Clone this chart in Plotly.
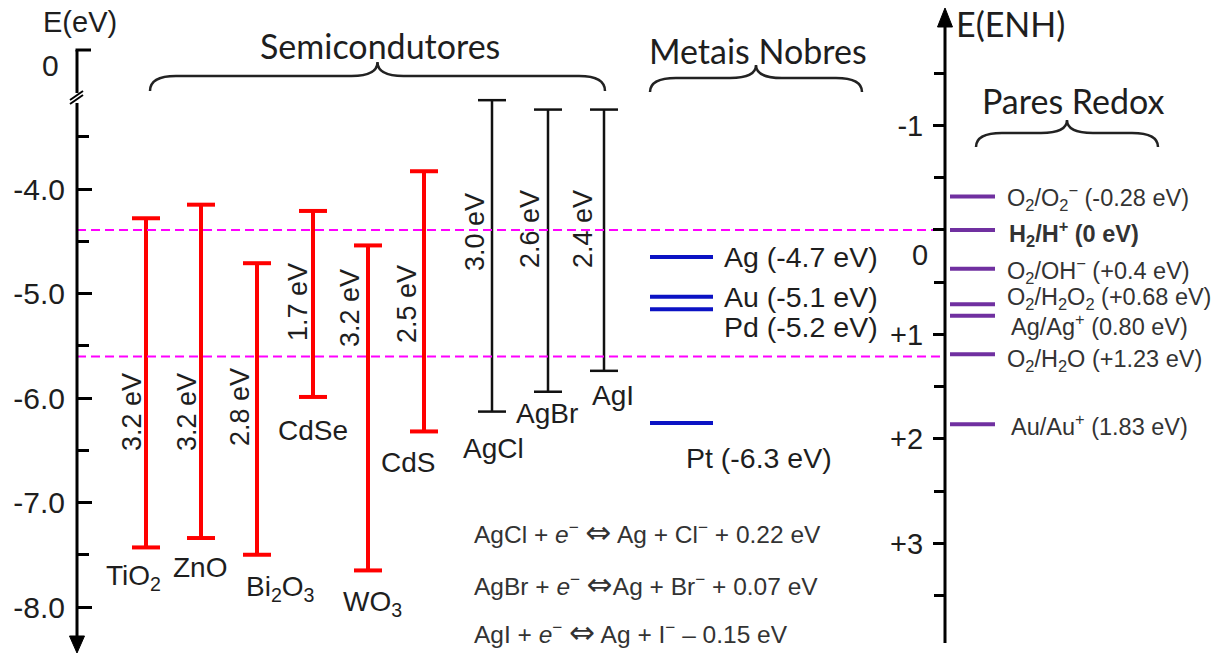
import plotly.graph_objects as go

W, H = 1232, 655

# ---------------- data ----------------
semi_names = ["TiO<sub>2</sub>", "ZnO", "Bi<sub>2</sub>O<sub>3</sub>", "CdSe", "WO<sub>3</sub>", "CdS"]
semi_cb = [-4.28, -4.15, -4.71, -4.21, -4.54, -3.83]
semi_vb = [-7.43, -7.34, -7.50, -5.99, -7.65, -6.32]
semi_gap = ["3.2 eV", "3.2 eV", "2.8 eV", "1.7 eV", "3.2 eV", "2.5 eV"]

halide_names = ["AgCl", "AgBr", "AgI"]
halide_cb = [-3.15, -3.24, -3.24]
halide_vb = [-6.13, -5.94, -5.74]
halide_gap = ["3.0 eV", "2.6 eV", "2.4 eV"]

metal_labels = ["Ag (-4.7 eV)", "Au (-5.1 eV)", "Pd (-5.2 eV)", "Pt (-6.3 eV)"]
metal_levels = [-4.65, -5.03, -5.15, -6.24]

redox_labels = ["O<sub>2</sub>/O<sub>2</sub><sup>\u2212</sup> (-0.28 eV)",
                "<b>H<sub>2</sub>/H<sup>+</sup> (0 eV)</b>",
                "O<sub>2</sub>/OH<sup>\u2212</sup> (+0.4 eV)",
                "O<sub>2</sub>/H<sub>2</sub>O<sub>2</sub> (+0.68 eV)",
                "Ag/Ag<sup>+</sup> (0.80 eV)",
                "O<sub>2</sub>/H<sub>2</sub>O (+1.23 eV)",
                "Au/Au<sup>+</sup> (1.83 eV)"]
redox_levels = [-0.32, 0.0, 0.37, 0.71, 0.82, 1.19, 1.86]   # E(ENH)
ref_levels = [0.0, 1.21]                                      # dashed reference lines (ENH)

left_ticks = [-4.0, -5.0, -6.0, -7.0, -8.0]
left_ticktext = ["-4.0", "-5.0", "-6.0", "-7.0", "-8.0"]
left_minor = [-3.5, -4.5, -5.5, -6.5, -7.5]
right_ticks = [-1, 0, 1, 2, 3]
right_ticktext = ["-1", "", "+1", "+2", "+3"]
right_minor = [-1.5, -0.5, 0.5, 1.5, 2.5, 3.5]

ARROW = "<span style=\"font-family:DejaVu Sans;font-size:31px\">\u21d4</span>"
equations = ["AgCl + <i>e</i><sup>\u2212</sup> " + ARROW + " Ag + Cl<sup>\u2212</sup> + 0.22 eV",
             "AgBr + <i>e</i><sup>\u2212</sup> " + ARROW + "Ag + Br<sup>\u2212</sup> + 0.07 eV",
             "AgI + <i>e</i><sup>\u2212</sup> " + ARROW + " Ag + I<sup>\u2212</sup> \u2013 0.15 eV"]

# ---------------- layout positions (pixels) ----------------
semi_x = [146, 201, 257, 313, 368, 424]
halide_x = [492, 548, 604]
cap = 14
metal_x = [650, 713]
redox_x = [950, 995]
left_axis_x, right_axis_x = 77, 945

semi_name_pos = [(133, 577), (200, 567), (280, 588), (313, 430), (372, 603), (408, 462)]
semi_gap_pos = [(132, 412), (187, 412), (240, 407), (298, 302), (350, 308), (407, 304)]
halide_name_pos = [(493, 448), (547, 413), (613, 395)]
halide_gap_pos = [(475, 232), (530, 229), (583, 229)]
metal_label_pos = [(722, 257), (722, 297), (722, 327), (684, 458)]
redox_label_pos = [(1005, 197), (1007, 233), (1005, 270), (1005, 298), (1009, 325), (1005, 360), (1009, 425)]
eq_pos = [(472, 532), (472, 584), (472, 632)]

# axis scale: pixel y -> eV
PX_PER_EV = 104.5
Y_AT_M4 = 189
E_top = -4.0 + Y_AT_M4 / PX_PER_EV
E_bot = -4.0 - (H - Y_AT_M4) / PX_PER_EV
ENH_OFFSET = 4.392   # E(ENH) = -(E(vac) + offset)
R_top = -(E_top + ENH_OFFSET)
R_bot = -(E_bot + ENH_OFFSET)

ARIAL = "Liberation Sans, Arial, Helvetica, sans-serif"
CAL = "Lato, Carlito, Calibri, sans-serif"
TXT = "#1e1e1e"


def px(x):
    return x / W


def py(y):
    return 1 - y / H


def bars(xs, tops, bots):
    X, Y = [], []
    for x, t, b in zip(xs, tops, bots):
        X += [x, x, None, x - cap, x + cap, None, x - cap, x + cap, None]
        Y += [t, b, None, t, t, None, b, b, None]
    return X, Y


fig = go.Figure()

# dashed reference lines (ENH axis)
for r in ref_levels:
    fig.add_trace(go.Scatter(x=[left_axis_x, right_axis_x], y=[r, r], yaxis="y2", mode="lines",
                             line=dict(color="#ff00ff", width=2, dash="9px,5px"),
                             hoverinfo="skip", showlegend=False))

X, Y = bars(semi_x, semi_cb, semi_vb)
fig.add_trace(go.Scatter(x=X, y=Y, mode="lines", line=dict(color="#ff0000", width=4),
                         showlegend=False, hoverinfo="skip"))
X, Y = bars(halide_x, halide_cb, halide_vb)
fig.add_trace(go.Scatter(x=X, y=Y, mode="lines", line=dict(color="#111111", width=2.5),
                         showlegend=False, hoverinfo="skip"))

for v in metal_levels:
    fig.add_trace(go.Scatter(x=metal_x, y=[v, v], mode="lines",
                             line=dict(color="#0b12c4", width=4), showlegend=False, hoverinfo="skip"))

for v in redox_levels:
    fig.add_trace(go.Scatter(x=redox_x, y=[v, v], yaxis="y2", mode="lines",
                             line=dict(color="#7030a0", width=4), showlegend=False, hoverinfo="skip"))

ann = []


def add_text(text, x, y, size, family=ARIAL, xanchor="center", angle=0, color=TXT):
    ann.append(dict(text=text, x=px(x), y=py(y), xref="paper", yref="paper", showarrow=False,
                    xanchor=xanchor, yanchor="middle", textangle=angle,
                    font=dict(size=size, family=family, color=color)))


for name, (x, y) in zip(semi_names, semi_name_pos):
    add_text(name, x, y, 28)
for g, (x, y) in zip(semi_gap, semi_gap_pos):
    add_text(g, x, y, 27, angle=-90)
for name, (x, y) in zip(halide_names, halide_name_pos):
    add_text(name, x, y, 28)
for g, (x, y) in zip(halide_gap, halide_gap_pos):
    add_text(g, x, y, 27, angle=-90)
for lab, (x, y) in zip(metal_labels, metal_label_pos):
    add_text(lab, x, y, 28.5, xanchor="left")
for lab, (x, y) in zip(redox_labels, redox_label_pos):
    add_text(lab, x, y, 23.5, xanchor="left", color="#333333")
for eq, (x, y) in zip(equations, eq_pos):
    add_text(eq, x, y, 24.5, xanchor="left", color="#333333")

add_text("Semicondutores", 380, 46, 34, family=CAL)
add_text("Metais Nobres", 758, 51, 34, family=CAL)
add_text("Pares Redox", 1073, 100, 34, family=CAL)
add_text("E(ENH)", 1010, 23, 34, family=CAL)
add_text("E(eV)", 80, 22, 29)
add_text("0", 61, 65, 30, xanchor="right")
add_text("0", 920, 255, 29)

# ---------------- decorative shapes ----------------
shapes = []
LINE = dict(color="black", width=3)


def seg(x0, y0, x1, y1, line=LINE):
    shapes.append(dict(type="line", xref="paper", yref="paper", x0=px(x0), y0=py(y0),
                       x1=px(x1), y1=py(y1), line=line))


def path(pts, close=False, fill=None, line=LINE):
    d = ""
    for cmd, coords in pts:
        d += cmd + " " + " ".join(f"{px(coords[i]):.5f},{py(coords[i+1]):.5f}" for i in range(0, len(coords), 2)) + " "
    if close:
        d += "Z"
    s = dict(type="path", xref="paper", yref="paper", path=d.strip(), line=line)
    if fill:
        s["fillcolor"] = fill
    shapes.append(s)


def brace(x0, x1, y_end, y_h, y_peak, r=26):
    xc = (x0 + x1) / 2
    path([("M", [x0, y_end]), ("Q", [x0, y_h, x0 + r, y_h]), ("L", [xc - r, y_h]),
          ("Q", [xc, y_h, xc, y_peak]), ("Q", [xc, y_h, xc + r, y_h]), ("L", [x1 - r, y_h]),
          ("Q", [x1, y_h, x1, y_end])], line=dict(color="#222222", width=2.5))


brace(150, 605, 91, 76, 62)
brace(650, 862, 92, 78, 65)
brace(976, 1158, 147, 133, 120)

# left axis
seg(left_axis_x, 50, left_axis_x, 93)
seg(left_axis_x - 1.5, 50, 91, 50)
seg(70, 100, 83, 91, dict(color="black", width=2))
seg(70, 104, 83, 95, dict(color="black", width=2))
seg(left_axis_x, 103, left_axis_x, 640)
path([("M", [69.5, 636]), ("L", [84.5, 636]), ("L", [77, 653])], close=True, fill="black",
     line=dict(color="black", width=1))

# right axis
seg(right_axis_x, 24, right_axis_x, 643)
path([("M", [937.5, 27]), ("L", [952.5, 27]), ("L", [945, 8])], close=True, fill="black",
     line=dict(color="black", width=1))

fig.update_layout(
    width=W, height=H, margin=dict(l=0, r=0, t=0, b=0),
    paper_bgcolor="white", plot_bgcolor="white",
    xaxis=dict(range=[0, W], visible=False, fixedrange=True),
    yaxis=dict(range=[E_bot, E_top], anchor="free", position=px(left_axis_x), side="left",
               showgrid=False, zeroline=False, showline=False,
               ticks="inside", ticklen=14, tickwidth=3, tickcolor="black",
               tickvals=left_ticks, ticktext=left_ticktext, ticklabelstandoff=12,
               tickfont=dict(size=30, family=ARIAL, color=TXT),
               minor=dict(tickvals=left_minor, ticks="inside", ticklen=11, tickwidth=3, tickcolor="black")),
    yaxis2=dict(range=[R_bot, R_top], overlaying="y", anchor="free", position=px(right_axis_x),
                side="left", showgrid=False, zeroline=False, showline=False,
                ticks="outside", ticklen=12, tickwidth=3, tickcolor="black",
                tickvals=right_ticks, ticktext=right_ticktext, ticklabelstandoff=4,
                tickfont=dict(size=29, family=ARIAL, color=TXT),
                minor=dict(tickvals=right_minor, ticks="outside", ticklen=11, tickwidth=3, tickcolor="black")),
    annotations=ann, shapes=shapes, showlegend=False,
)

fig.write_html("out.html", config={"displayModeBar": False})
